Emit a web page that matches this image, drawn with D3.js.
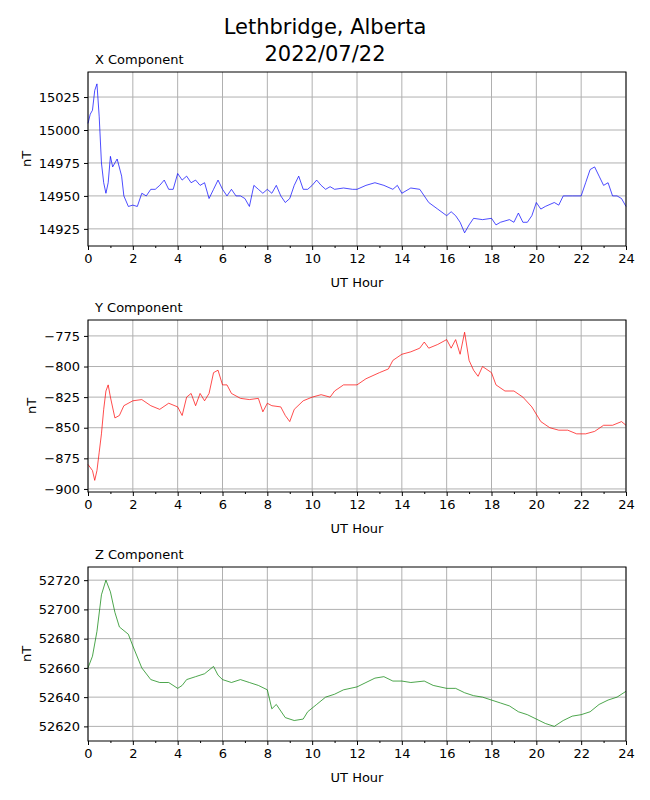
<!DOCTYPE html>
<html><head><meta charset="utf-8">
<script src="https://cdn.jsdelivr.net/npm/d3@7"></script>
<style>body{margin:0;background:#fff}text{font-family:"DejaVu Sans",sans-serif}</style>
</head><body>
<svg id="chart" width="650" height="800"></svg>
<script>
const xHours = [0,0.1,0.2,0.3,0.4,0.5,0.6,0.7,0.8,0.9,1.0,1.1,1.2,1.3,1.5,1.6,1.8,2.0,2.2,2.4,2.6,2.8,3.0,3.2,3.4,3.6,3.8,4.0,4.2,4.4,4.6,4.8,5.0,5.2,5.4,5.6,5.8,6.0,6.2,6.4,6.6,6.8,7.0,7.2,7.4,7.6,7.8,8.0,8.2,8.4,8.6,8.8,9.0,9.2,9.4,9.6,9.8,10.0,10.2,10.4,10.6,10.8,11.0,11.4,11.8,12.0,12.4,12.8,13.2,13.6,13.8,14.0,14.4,14.8,15.0,15.2,15.6,16.0,16.2,16.4,16.6,16.8,17.0,17.2,17.6,18.0,18.2,18.4,18.8,19.0,19.2,19.4,19.6,19.8,20.0,20.2,20.4,20.8,21.0,21.2,21.6,22.0,22.2,22.4,22.6,22.8,23.0,23.2,23.4,23.6,23.8,24];
const xValues = [15005,15012,15015,15030,15035,15010,14975,14960,14952,14960,14980,14972,14975,14978,14965,14950,14942,14943,14942,14952,14950,14955,14955,14958,14962,14955,14955,14967,14962,14965,14960,14962,14958,14960,14948,14955,14962,14955,14950,14955,14950,14950,14948,14942,14958,14955,14952,14955,14952,14958,14950,14945,14948,14958,14965,14955,14955,14958,14962,14958,14955,14957,14955,14956,14955,14955,14958,14960,14958,14955,14958,14952,14956,14955,14950,14945,14940,14935,14938,14935,14930,14922,14928,14933,14932,14933,14928,14930,14932,14930,14937,14930,14930,14935,14945,14940,14942,14945,14943,14950,14950,14950,14960,14970,14972,14965,14958,14960,14950,14950,14948,14942];

const yHours = [0,0.2,0.3,0.4,0.5,0.6,0.7,0.8,0.9,1.0,1.2,1.4,1.6,2.0,2.4,2.8,3.2,3.6,4.0,4.2,4.4,4.6,4.8,5.0,5.2,5.4,5.6,5.8,6.0,6.2,6.4,6.8,7.2,7.6,7.8,8.0,8.2,8.6,8.8,9.0,9.2,9.6,10.0,10.4,10.8,11.0,11.4,12.0,12.4,13.0,13.4,13.6,14.0,14.4,14.8,15.0,15.2,15.6,16.0,16.2,16.4,16.6,16.8,17.0,17.2,17.4,17.6,18.0,18.2,18.6,19.0,19.4,19.8,20.2,20.6,21.0,21.4,21.8,22.2,22.6,23.0,23.4,23.8,24];
const yValues = [-880,-885,-893,-885,-870,-855,-835,-820,-815,-825,-842,-840,-832,-828,-827,-832,-835,-830,-833,-840,-825,-822,-832,-822,-828,-822,-805,-803,-815,-815,-822,-826,-827,-826,-837,-830,-832,-833,-840,-845,-835,-828,-825,-823,-825,-820,-815,-815,-810,-805,-802,-795,-790,-788,-785,-780,-785,-782,-778,-785,-778,-790,-772,-795,-803,-808,-800,-805,-815,-820,-820,-825,-833,-845,-850,-852,-852,-855,-855,-853,-848,-848,-845,-848];

const zHours = [0,0.2,0.4,0.6,0.8,1.0,1.2,1.4,1.8,2.0,2.4,2.8,3.2,3.6,4.0,4.2,4.4,4.8,5.2,5.6,5.8,6.0,6.4,6.8,7.2,7.6,8.0,8.2,8.4,8.8,9.2,9.6,9.8,10.2,10.6,11.0,11.4,12.0,12.4,12.8,13.2,13.6,14.0,14.4,15.0,15.4,16.0,16.4,16.8,17.2,17.6,18.0,18.4,18.8,19.2,19.6,20.0,20.4,20.8,21.2,21.6,22.0,22.4,22.8,23.2,23.6,24];
const zValues = [52660,52668,52685,52710,52720,52712,52698,52688,52683,52675,52660,52652,52650,52650,52646,52648,52652,52654,52656,52661,52655,52652,52650,52652,52650,52648,52645,52632,52635,52626,52624,52625,52630,52635,52640,52642,52645,52647,52650,52653,52654,52651,52651,52650,52651,52648,52646,52646,52643,52641,52640,52638,52636,52634,52630,52628,52625,52622,52620,52624,52627,52628,52630,52635,52638,52640,52644];

const hourTicks = d3.range(0, 25, 2);
const panels = [
  {title: "X Component", hours: xHours, values: xValues, color: "blue", domain: [14912, 15044], ticks: [14925,14950,14975,15000,15025], top: 72, bottom: 246},
  {title: "Y Component", hours: yHours, values: yValues, color: "red", domain: [-902.5, -762], ticks: [-900,-875,-850,-825,-800,-775], top: 320, bottom: 492},
  {title: "Z Component", hours: zHours, values: zValues, color: "green", domain: [52610, 52729], ticks: [52620,52640,52660,52680,52700,52720], top: 567, bottom: 741}
];

const svg = d3.select("#chart");
const left = 88, right = 626;

svg.append("text").attr("x", 325).attr("y", 34).attr("text-anchor", "middle")
  .attr("font-size", 21).text("Lethbridge, Alberta");
svg.append("text").attr("x", 325).attr("y", 61).attr("text-anchor", "middle")
  .attr("font-size", 21).text("2022/07/22");

const x = d3.scaleLinear().domain([0, 24]).range([left, right]);

panels.forEach(p => {
  const y = d3.scaleLinear().domain(p.domain).range([p.bottom, p.top]);
  const g = svg.append("g");

  // grid
  g.append("g").selectAll("line").data(hourTicks).enter().append("line")
    .attr("x1", d => x(d)).attr("x2", d => x(d)).attr("y1", p.top).attr("y2", p.bottom)
    .attr("stroke", "#b0b0b0").attr("stroke-width", 1);
  g.append("g").selectAll("line").data(p.ticks).enter().append("line")
    .attr("x1", left).attr("x2", right).attr("y1", d => y(d)).attr("y2", d => y(d))
    .attr("stroke", "#b0b0b0").attr("stroke-width", 1);

  const line = d3.line().x((d, i) => x(p.hours[i])).y(d => y(d));
  g.append("path").datum(p.values).attr("d", line)
    .attr("fill", "none").attr("stroke", p.color).attr("stroke-width", 0.7);

  g.append("rect").attr("x", left).attr("y", p.top).attr("width", right - left)
    .attr("height", p.bottom - p.top).attr("fill", "none").attr("stroke", "#000");

  const xa = g.append("g").attr("transform", `translate(0,${p.bottom})`)
    .call(d3.axisBottom(x).tickValues(hourTicks).tickSize(4).tickPadding(4));
  g.append("g").attr("transform", `translate(0,${p.bottom})`)
    .call(d3.axisBottom(x).tickValues(d3.range(1, 24, 2)).tickSize(2).tickFormat(""))
    .select(".domain").remove();
  const ya = g.append("g").attr("transform", `translate(${left},0)`)
    .call(d3.axisLeft(y).tickValues(p.ticks).tickSize(4).tickPadding(4).tickFormat(d3.format("d")));
  [xa, ya].forEach(a => {
    a.select(".domain").remove();
    a.selectAll("text").attr("font-size", 13).attr("font-family", "DejaVu Sans");
  });

  g.append("text").attr("x", 95).attr("y", p.top - 8).attr("font-size", 13).text(p.title);
  g.append("text").attr("x", (left + right) / 2).attr("y", p.bottom + 41)
    .attr("text-anchor", "middle").attr("font-size", 13).text("UT Hour");
  const yl = ya.node().getBBox();
  g.append("text").attr("transform", `translate(${left + yl.x - 8},${(p.top + p.bottom) / 2}) rotate(-90)`)
    .attr("text-anchor", "middle").attr("font-size", 13).text("nT");
});
</script>
</body></html>
